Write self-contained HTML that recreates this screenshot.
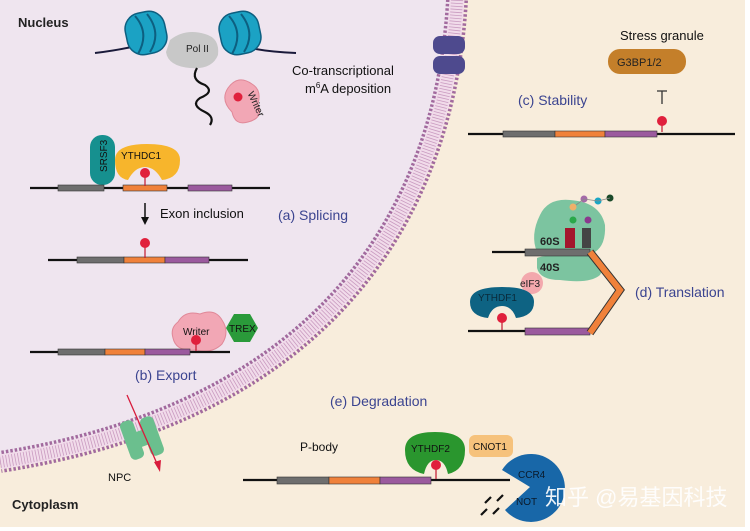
<!DOCTYPE html>
<html><head><meta charset="utf-8"><style>
html,body{margin:0;padding:0;background:#fff}
svg{display:block}
text{font-family:"Liberation Sans","Noto Sans CJK SC",sans-serif}
</style></head><body>
<svg width="750" height="531" viewBox="0 0 750 531" xmlns="http://www.w3.org/2000/svg">
<rect x="0" y="0" width="745" height="527" fill="#f8eddc"/>
<path d="M0,0 L457,0 C445,210 330,410 0,462 Z" fill="#efe5ef"/>
<!-- membrane -->
<path d="M457,0 C445,210 330,410 0,462" fill="none" stroke="#a26a9e" stroke-width="22" stroke-dasharray="2.5 2"/>
<path d="M457,0 C445,210 330,410 0,462" fill="none" stroke="#f1dbea" stroke-width="15"/>
<path d="M457,0 C445,210 330,410 0,462" fill="none" stroke="#c99bc0" stroke-width="12" stroke-dasharray="0.8 2.2"/>
<!-- nuclear pore top -->
<g fill="#4e4a8e"><rect x="433" y="36" width="32" height="18" rx="7"/><rect x="433" y="56" width="32" height="18" rx="7"/></g>
<!-- Nucleus labels -->
<text x="18" y="27" font-size="13" font-weight="bold" fill="#222">Nucleus</text>
<text x="12" y="509" font-size="13" font-weight="bold" fill="#222">Cytoplasm</text>
<!-- DNA & nucleosomes -->
<path d="M95,53 Q120,50 140,45 M250,48 Q270,52 296,53" stroke="#1a1a3a" stroke-width="2" fill="none"/>
<g fill="#1ba2c4" stroke="#0d5f80" stroke-width="1.5">
<rect x="126" y="12" width="40" height="42" rx="16" transform="rotate(-12 146 33)"/>
<rect x="220" y="12" width="40" height="42" rx="16" transform="rotate(-12 240 33)"/>
</g>
<path d="M135,16 Q150,33 138,54 M147,14 Q162,33 150,52 M229,16 Q244,33 232,54 M241,14 Q256,33 244,52" stroke="#0d5f80" stroke-width="2" fill="none"/>
<path d="M170,40 Q185,28 205,34 Q220,38 218,55 Q212,70 190,68 Q168,66 166,52 Z" fill="#c8c8c8"/>
<text x="186" y="52" font-size="10" fill="#222">Pol II</text>
<path d="M197,68 Q190,80 205,85 Q215,92 200,98 Q190,105 205,112 Q215,117 210,125" stroke="#111" stroke-width="2.2" fill="none"/>
<path d="M228,88 Q238,74 252,84 Q262,90 258,104 Q264,118 248,122 Q235,126 232,112 Q220,100 228,88Z" fill="#f2a7b5" stroke="#e08898" stroke-width="1"/>
<text x="240" y="95" font-size="10" fill="#222" transform="rotate(65 245 100)">Writer</text>
<circle cx="238" cy="97" r="4.5" fill="#e0203c"/>
<text x="292" y="75" font-size="13" fill="#111">Co-transcriptional</text>
<text x="305" y="93" font-size="13" fill="#111">m<tspan font-size="8" dy="-5">6</tspan><tspan dy="5">A deposition</tspan></text>
<!-- Splicing -->
<rect x="90" y="135" width="25" height="50" rx="12" fill="#16908f"/>
<text x="107" y="172" font-size="10" fill="#111" transform="rotate(-90 107 172)">SRSF3</text>
<path d="M115,160 Q115,144 147,144 Q180,144 180,160 Q180,178 162,180 Q155,167 145,167 Q135,167 128,180 Q115,178 115,160Z" fill="#f7b52c"/>
<text x="121" y="159" font-size="10" fill="#111">YTHDC1</text>
<line x1="30" y1="188" x2="270" y2="188" stroke="#111" stroke-width="2.2"/>
<rect x="58" y="185" width="46" height="6" fill="#6e6e6e" stroke="#333" stroke-width=".6"/>
<rect x="123" y="185" width="44" height="6" fill="#f0813a" stroke="#333" stroke-width=".6"/>
<rect x="188" y="185" width="44" height="6" fill="#9b5a9e" stroke="#333" stroke-width=".6"/>
<line x1="145" y1="176" x2="145" y2="186" stroke="#c2182f" stroke-width="1.2"/><circle cx="145" cy="173" r="5" fill="#e0203c"/>
<line x1="145" y1="203" x2="145" y2="220" stroke="#111" stroke-width="1.5"/><path d="M141,217 L145,225 L149,217Z" fill="#111"/>
<text x="160" y="218" font-size="13" fill="#111">Exon inclusion</text>
<text x="278" y="220" font-size="14" fill="#3b4490">(a) Splicing</text>
<line x1="48" y1="260" x2="248" y2="260" stroke="#111" stroke-width="2.2"/>
<rect x="77" y="257" width="47" height="6" fill="#6e6e6e" stroke="#333" stroke-width=".6"/>
<rect x="124" y="257" width="41" height="6" fill="#f0813a" stroke="#333" stroke-width=".6"/>
<rect x="165" y="257" width="44" height="6" fill="#9b5a9e" stroke="#333" stroke-width=".6"/>
<line x1="145" y1="247" x2="145" y2="258" stroke="#c2182f" stroke-width="1.2"/><circle cx="145" cy="243" r="5" fill="#e0203c"/>
<!-- Export -->
<path d="M178,322 Q185,310 200,314 Q215,308 222,320 Q230,332 222,344 Q212,354 196,350 Q176,352 173,338 Q170,328 178,322Z" fill="#f2a7b5" stroke="#e08898" stroke-width="1"/>
<text x="183" y="335" font-size="10" fill="#111">Writer</text>
<polygon points="234,314 250,314 258,328 250,342 234,342 226,328" fill="#2a9a3a"/>
<text x="229" y="332" font-size="10" fill="#111">TREX</text>
<line x1="30" y1="352" x2="230" y2="352" stroke="#111" stroke-width="2.2"/>
<rect x="58" y="349" width="47" height="6" fill="#6e6e6e" stroke="#333" stroke-width=".6"/>
<rect x="105" y="349" width="40" height="6" fill="#f0813a" stroke="#333" stroke-width=".6"/>
<rect x="145" y="349" width="45" height="6" fill="#9b5a9e" stroke="#333" stroke-width=".6"/>
<line x1="196" y1="343" x2="196" y2="351" stroke="#c2182f" stroke-width="1.2"/><circle cx="196" cy="340" r="5" fill="#e0203c"/>
<text x="135" y="380" font-size="14" fill="#3b4490">(b) Export</text>
<!-- NPC -->
<g fill="#6bbf8e"><rect x="125" y="420" width="14" height="40" rx="5" transform="rotate(-20 132 440)"/><rect x="145" y="416" width="14" height="40" rx="5" transform="rotate(-20 152 436)"/><rect x="132" y="430" width="22" height="16" transform="rotate(-20 143 438)"/></g>
<line x1="127" y1="395" x2="158" y2="466" stroke="#d81b3c" stroke-width="1.3"/><path d="M154,462 L160,472 L161,460Z" fill="#d81b3c"/>
<text x="108" y="481" font-size="11" fill="#111">NPC</text>
<!-- Stability -->
<text x="620" y="40" font-size="13" fill="#111">Stress granule</text>
<rect x="608" y="49" width="78" height="25" rx="12" fill="#c47f2a"/>
<text x="617" y="66" font-size="11" fill="#222">G3BP1/2</text>
<path d="M657,91 L667,91 M662,91 L662,104" stroke="#333" stroke-width="1.3"/>
<text x="518" y="105" font-size="14" fill="#3b4490">(c) Stability</text>
<line x1="468" y1="134" x2="735" y2="134" stroke="#111" stroke-width="2.2"/>
<rect x="503" y="131" width="52" height="6" fill="#6e6e6e" stroke="#333" stroke-width=".6"/>
<rect x="555" y="131" width="50" height="6" fill="#f0813a" stroke="#333" stroke-width=".6"/>
<rect x="605" y="131" width="52" height="6" fill="#9b5a9e" stroke="#333" stroke-width=".6"/>
<line x1="662" y1="124" x2="662" y2="132" stroke="#c2182f" stroke-width="1.2"/><circle cx="662" cy="121" r="5" fill="#e0203c"/>
<!-- Translation -->
<path d="M540,215 Q548,198 570,200 Q600,202 605,225 Q606,245 595,252 L537,252 Q530,235 540,215Z" fill="#7cc4a0"/>
<path d="M537,258 Q545,254 595,254 Q608,262 600,275 Q590,284 560,280 Q540,280 537,268Z" fill="#7cc4a0"/>
<line x1="492" y1="252" x2="530" y2="252" stroke="#111" stroke-width="2.2"/>
<rect x="525" y="249" width="65" height="7" fill="#6e6e6e" stroke="#333" stroke-width=".6"/>
<rect x="565" y="228" width="10" height="20" fill="#a3152c"/><rect x="582" y="228" width="9" height="20" fill="#444"/>
<circle cx="573" cy="220" r="3.5" fill="#2aa84a"/><circle cx="588" cy="220" r="3.5" fill="#8a3a8e"/>
<circle cx="573" cy="207" r="3.5" fill="#f0b06a"/><circle cx="584" cy="199" r="3.5" fill="#a46aa8"/><circle cx="598" cy="201" r="3.5" fill="#1aa6c4"/><circle cx="610" cy="198" r="3.5" fill="#1a4a2a"/>
<path d="M576,205 L584,199 L598,201 L610,198" stroke="#888" stroke-width=".8" fill="none"/>
<text x="540" y="245" font-size="11" font-weight="bold" fill="#222">60S</text>
<text x="540" y="271" font-size="11" font-weight="bold" fill="#222">40S</text>
<circle cx="532" cy="283" r="11" fill="#f3a8ad"/>
<text x="520" y="287" font-size="10" fill="#222">eIF3</text>
<path d="M470,302 Q470,287 502,287 Q534,287 534,302 Q534,316 516,318 Q512,306 502,306 Q492,306 488,318 Q470,316 470,302Z" fill="#0e6383"/>
<text x="478" y="301" font-size="10" fill="#0a2a3a">YTHDF1</text>
<line x1="468" y1="331" x2="530" y2="331" stroke="#111" stroke-width="2.2"/>
<rect x="525" y="328" width="65" height="7" fill="#9b5a9e" stroke="#333" stroke-width=".6"/>
<line x1="502" y1="322" x2="502" y2="330" stroke="#c2182f" stroke-width="1.2"/><circle cx="502" cy="318" r="5" fill="#e0203c"/>
<path d="M590,252 L620,290 L590,333" fill="none" stroke="#333" stroke-width="8"/>
<path d="M590,252 L620,290 L590,333" fill="none" stroke="#f0813a" stroke-width="6"/>
<text x="635" y="297" font-size="14" fill="#3b4490">(d) Translation</text>
<!-- Degradation -->
<text x="330" y="406" font-size="14" fill="#3b4490">(e) Degradation</text>
<text x="300" y="451" font-size="12" fill="#111">P-body</text>
<path d="M405,450 Q405,432 435,432 Q465,432 465,450 Q465,470 448,474 Q445,460 436,460 Q427,460 424,474 Q405,470 405,450Z" fill="#2a962e"/>
<text x="411" y="452" font-size="10" fill="#111">YTHDF2</text>
<rect x="469" y="435" width="44" height="22" rx="6" fill="#f6c27c"/>
<text x="473" y="450" font-size="10" fill="#111">CNOT1</text>
<line x1="243" y1="480" x2="510" y2="480" stroke="#111" stroke-width="2.2"/>
<rect x="277" y="477" width="52" height="7" fill="#6e6e6e" stroke="#333" stroke-width=".6"/>
<rect x="329" y="477" width="51" height="7" fill="#f0813a" stroke="#333" stroke-width=".6"/>
<rect x="380" y="477" width="51" height="7" fill="#9b5a9e" stroke="#333" stroke-width=".6"/>
<line x1="436" y1="469" x2="436" y2="479" stroke="#c2182f" stroke-width="1.2"/><circle cx="436" cy="465" r="5" fill="#e0203c"/>
<path d="M530,487 L502,470 A34,34 0 1 1 505,510 Z" fill="#1867a8"/>
<text x="518" y="478" font-size="10" fill="#0a1a2a">CCR4</text>
<text x="516" y="505" font-size="10" fill="#0a1a2a">NOT</text>
<path d="M485,503 L491,497 M497,501 L503,495 M481,515 L487,509 M493,514 L499,508" stroke="#111" stroke-width="2.2"/>
<text x="545" y="505" font-size="22" fill="#ffffff" opacity="0.92">知乎 @易基因科技</text>
</svg>
</body></html>
